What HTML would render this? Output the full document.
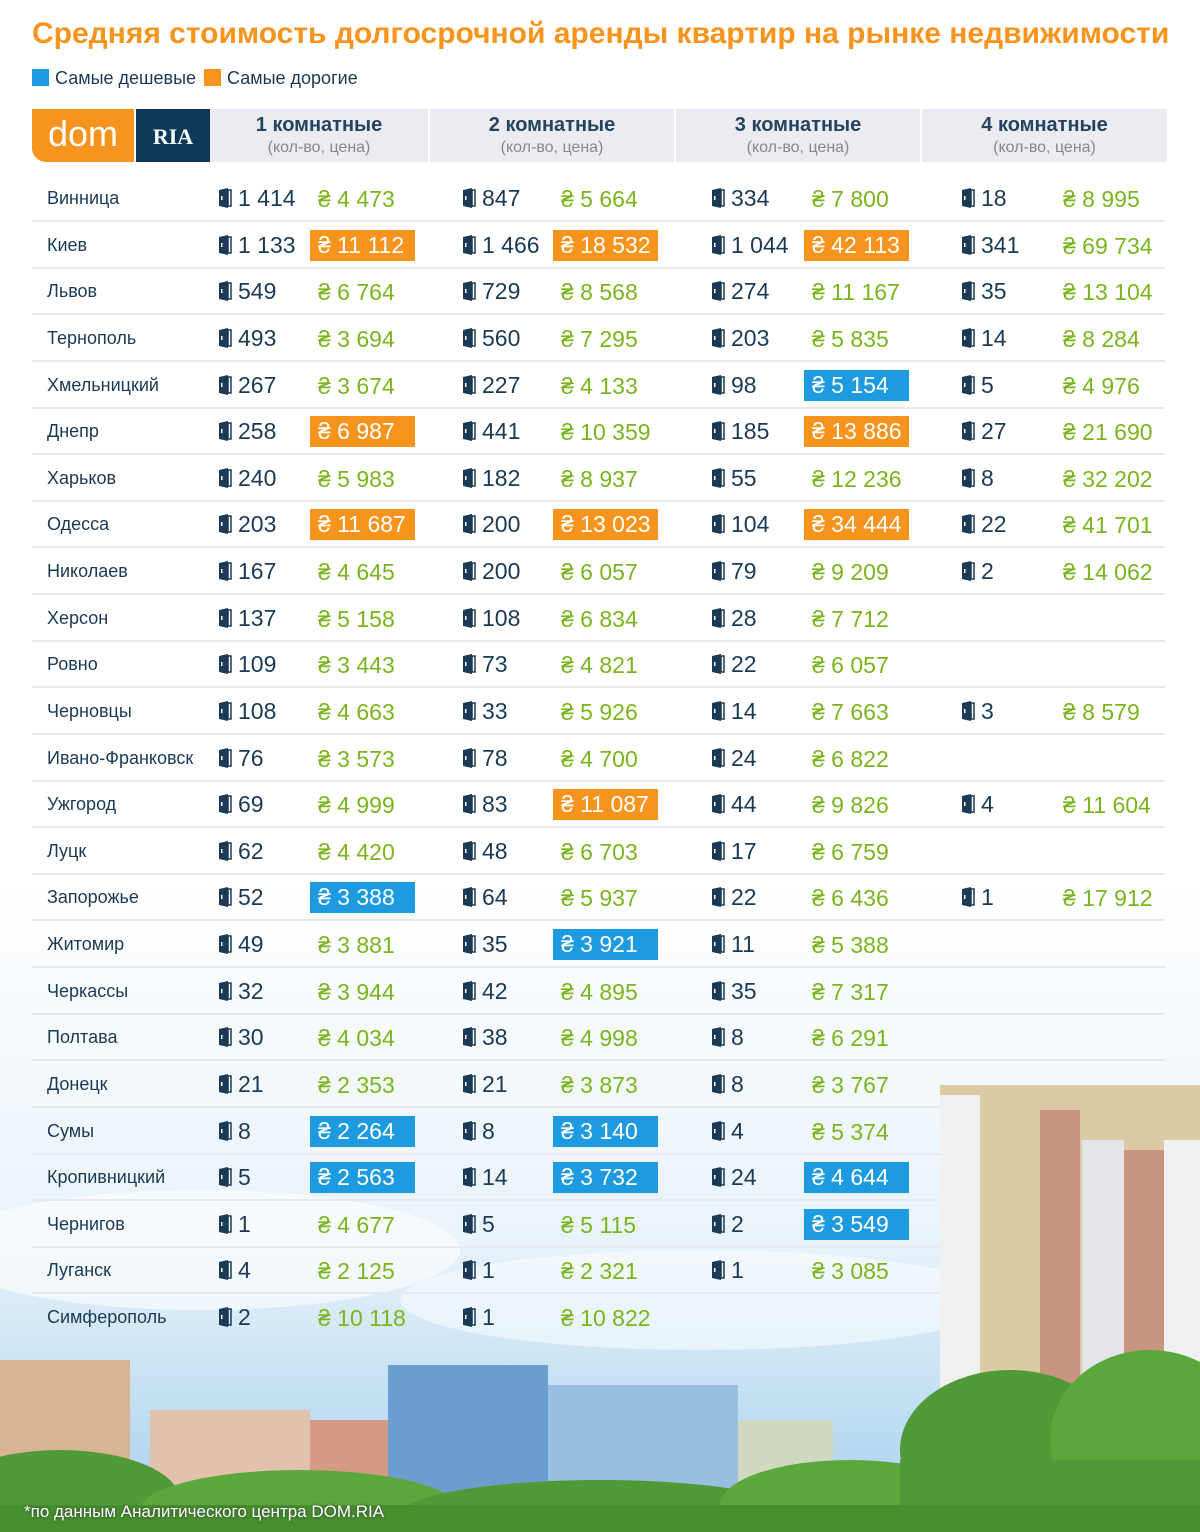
<!DOCTYPE html>
<html><head><meta charset="utf-8">
<style>
body{margin:0;width:1200px;height:1532px;overflow:hidden;font-family:"Liberation Sans","Noto Sans CJK SC",sans-serif;position:relative;background:#fff}
#bg{position:absolute;left:0;top:0}
.title{position:absolute;left:32px;top:17px;font-size:30px;font-weight:bold;color:#f7941d;letter-spacing:0px;white-space:nowrap}
.leg{position:absolute;top:68px;font-size:18px;color:#1a3a55}
.leg i{display:inline-block;width:17px;height:17px;vertical-align:-2px;margin-right:6px}
.hdr{position:absolute;top:109px;height:53px;background:#ecebf1;text-align:center;color:#1a3a55}
.hdr b{display:block;font-size:20px;font-weight:bold;margin-top:5px;color:#24445f}
.hdr span{display:block;font-size:16px;color:#888;margin-top:2px}
.cell{position:absolute;white-space:nowrap}
.city{font-size:18px;color:#1a3a55}
.cnt{font-size:23px;color:#1a3a55}
.pr{font-size:23px;color:#7ab51d}
.hl{color:#fff;padding:0 8px;width:89px;height:31px;line-height:31px}
.line{position:absolute;height:2px;background:#e8e9ec}
.foot{position:absolute;left:24px;top:1502px;font-size:17px;color:#fff;text-shadow:0 0 3px #333}
</style></head><body>
<svg id="bg" width="1200" height="1532">
<defs>
<linearGradient id="sky" x1="0" y1="0" x2="0" y2="1"><stop offset="0" stop-color="#fff"/><stop offset="0.55" stop-color="#e9f3fa"/><stop offset="1" stop-color="#a4cfec"/></linearGradient>
</defs>
<rect x="0" y="880" width="1200" height="652" fill="url(#sky)"/>
<ellipse cx="200" cy="1250" rx="260" ry="60" fill="#fff" opacity="0.6"/>
<ellipse cx="700" cy="1300" rx="300" ry="50" fill="#fff" opacity="0.5"/>
<rect x="0" y="1360" width="130" height="150" fill="#d8b494"/>
<rect x="150" y="1410" width="160" height="100" fill="#e2c2ac"/>
<rect x="310" y="1420" width="80" height="90" fill="#d49a84"/>
<rect x="388" y="1365" width="160" height="150" fill="#6a9ed0"/>
<rect x="548" y="1385" width="190" height="130" fill="#98bee0"/>
<rect x="738" y="1420" width="95" height="90" fill="#cfd9bf"/>
<rect x="940" y="1085" width="260" height="350" fill="#dccaa4"/>
<rect x="940" y="1095" width="40" height="340" fill="#eef0f2"/>
<rect x="1040" y="1110" width="40" height="330" fill="#c79580"/>
<rect x="1082" y="1140" width="42" height="300" fill="#e3e5e8"/>
<rect x="1124" y="1150" width="40" height="290" fill="#c79580"/>
<rect x="1164" y="1140" width="36" height="300" fill="#eef0f2"/>
<ellipse cx="60" cy="1500" rx="120" ry="50" fill="#4f9a36"/>
<ellipse cx="300" cy="1510" rx="160" ry="40" fill="#5aa83c"/>
<ellipse cx="600" cy="1515" rx="200" ry="35" fill="#4f9a36"/>
<ellipse cx="850" cy="1505" rx="130" ry="45" fill="#5aa83c"/>
<ellipse cx="1010" cy="1450" rx="110" ry="80" fill="#4f9a36"/>
<ellipse cx="1150" cy="1440" rx="100" ry="90" fill="#5aa83c"/>
<rect x="900" y="1460" width="300" height="72" fill="#4f9a36"/>
<rect x="0" y="1505" width="1200" height="27" fill="#47902e"/>
</svg>
<div class="title">Средняя стоимость долгосрочной аренды квартир на рынке недвижимости</div>
<div class="leg" style="left:32px"><i style="background:#1e9be0"></i>Самые дешевые</div>
<div class="leg" style="left:204px"><i style="background:#f7941d"></i>Самые дорогие</div>
<div style="position:absolute;left:32px;top:109px;width:102px;height:53px;background:#f7941d;border-radius:0 0 0 14px;color:#fff;font-size:36px;line-height:50px;text-align:center">dom</div>
<div style="position:absolute;left:136px;top:109px;width:74px;height:53px;background:#0e3a5a;color:#fff;font:bold 22px 'Liberation Serif',serif;text-align:center;line-height:56px">RIA</div>
<div class="hdr" style="left:210px;width:218px"><b>1 комнатные</b><span>(кол-во, цена)</span></div>
<div class="hdr" style="left:430px;width:244px"><b>2 комнатные</b><span>(кол-во, цена)</span></div>
<div class="hdr" style="left:676px;width:244px"><b>3 комнатные</b><span>(кол-во, цена)</span></div>
<div class="hdr" style="left:922px;width:245px"><b>4 комнатные</b><span>(кол-во, цена)</span></div>
<div id="tbl"></div>
<div class="foot">*по данным Аналитического центра DOM.RIA</div>
<script>
const cities=["Винница","Киев","Львов","Тернополь","Хмельницкий","Днепр","Харьков","Одесса","Николаев","Херсон","Ровно","Черновцы","Ивано-Франковск","Ужгород","Луцк","Запорожье","Житомир","Черкассы","Полтава","Донецк","Сумы","Кропивницкий","Чернигов","Луганск","Симферополь"];
const counts1=["1 414","1 133","549","493","267","258","240","203","167","137","109","108","76","69","62","52","49","32","30","21","8","5","1","4","2"];
const prices1=["4 473","11 112o","6 764","3 694","3 674","6 987o","5 983","11 687o","4 645","5 158","3 443","4 663","3 573","4 999","4 420","3 388b","3 881","3 944","4 034","2 353","2 264b","2 563b","4 677","2 125","10 118"];
const counts2=["847","1 466","729","560","227","441","182","200","200","108","73","33","78","83","48","64","35","42","38","21","8","14","5","1","1"];
const prices2=["5 664","18 532o","8 568","7 295","4 133","10 359","8 937","13 023o","6 057","6 834","4 821","5 926","4 700","11 087o","6 703","5 937","3 921b","4 895","4 998","3 873","3 140b","3 732b","5 115","2 321","10 822"];
const counts3=["334","1 044","274","203","98","185","55","104","79","28","22","14","24","44","17","22","11","35","8","8","4","24","2","1",""];
const prices3=["7 800","42 113o","11 167","5 835","5 154b","13 886o","12 236","34 444o","9 209","7 712","6 057","7 663","6 822","9 826","6 759","6 436","5 388","7 317","6 291","3 767","5 374","4 644b","3 549b","3 085",""];
const counts4=["18","341","35","14","5","27","8","22","2","","","3","","4","","1","","","","","","","","",""];
const prices4=["8 995","69 734","13 104","8 284","4 976","21 690","32 202","41 701","14 062","","","8 579","","11 604","","17 912","","","","","","","","",""];
const tbl=document.getElementById('tbl');
const colX=[218,462,711,961];
const priceX=[310,553,804,1055];
const rowY=i=>198+i*46.63;
const door='<svg width="14" height="20" viewBox="0 0 14 20" style="vertical-align:-2px;margin-right:6px"><path d="M1 2 L10 0 L10 20 L1 18 Z" fill="#1a3a55"/><rect x="10" y="2" width="3" height="16" fill="none" stroke="#1a3a55" stroke-width="1.5"/><rect x="3" y="8" width="1.5" height="4" fill="#fff"/></svg>';
const C=[counts1,counts2,counts3,counts4],P=[prices1,prices2,prices3,prices4];
cities.forEach((c,i)=>{
  const y=rowY(i);
  const d=document.createElement('div');d.className='cell city';d.style.left='47px';d.style.top=(y-10)+'px';d.textContent=c;
  
  
  tbl.appendChild(d);
  if(i<cities.length-1){
    const l=document.createElement('div');l.className='line';l.style.left='32px';l.style.top=(y+22)+'px';
    l.style.width=(y>1070?908:1133)+'px';
    
    
    tbl.appendChild(l);
  }
  for(let k=0;k<4;k++){
    const cv=C[k][i],pv=P[k][i];
    if(cv){
      const e=document.createElement('div');e.className='cell cnt';e.style.left=colX[k]+'px';e.style.top=(y-13)+'px';e.innerHTML=door+cv;
      
      
      tbl.appendChild(e);
    }
    if(pv){
      let v=pv,cls='';const last=v.slice(-1);
      if(last==='o'||last==='b'){v=v.slice(0,-1);cls=last;}
      const e=document.createElement('div');e.className='cell pr'+(cls?' hl':'');
      e.style.left=(cls?priceX[k]:priceX[k]+8)+'px';e.style.top=(y-(cls?15:12))+'px';
      if(cls)e.style.background=cls==='o'?'#f7941d':'#1e9be0';
      e.textContent='₴ '+v;
      
      
      tbl.appendChild(e);
    }
  }
});
</script>
</body></html>
